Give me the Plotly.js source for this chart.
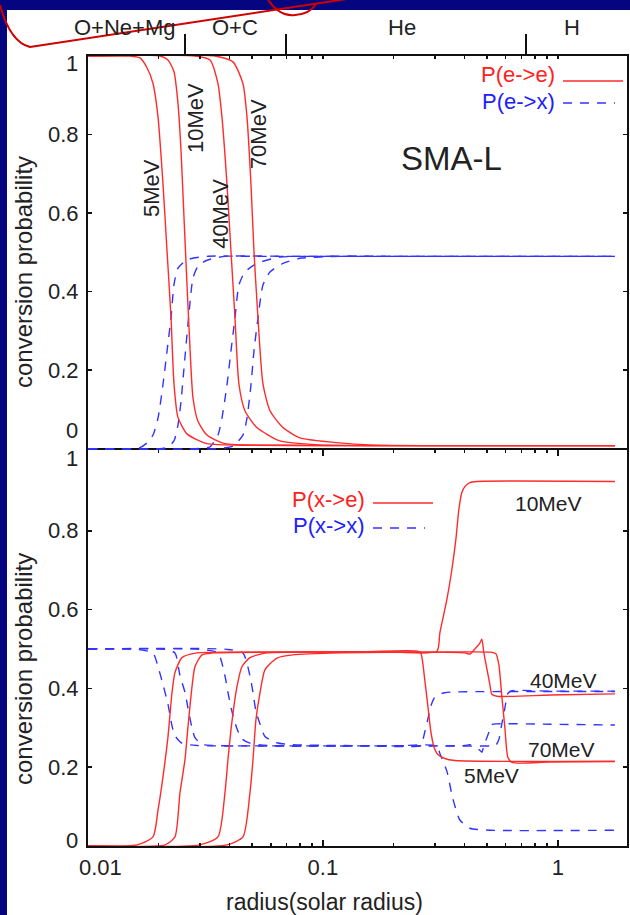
<!DOCTYPE html>
<html><head><meta charset="utf-8">
<script src="https://cdn.plot.ly/plotly-3.0.1.min.js"></script>
<style>html,body{margin:0;padding:0;background:#05057f;} #chart{width:630px;height:915px;}</style>
</head><body><div id="chart"></div>
<script>
// ---------- data: top panel (P(e->e) red, P(e->x) blue) ----------
const energies = ['5MeV', '10MeV', '40MeV', '70MeV'];

const top_x_5   = [0.01, 0.0151, 0.01664, 0.01783, 0.01891, 0.01986, 0.02085, 0.02169, 0.02256, 0.02323, 0.02415, 0.02638, 0.03209, 0.05, 0.1, 1.75];
const top_ee_5  = [1.0, 1.0, 0.995, 0.97, 0.93, 0.845, 0.675, 0.505, 0.335, 0.165, 0.08, 0.038, 0.013, 0.009, 0.008, 0.008];
const top_ex_5  = [0.0, 0.0, 0.003, 0.015, 0.035, 0.078, 0.163, 0.248, 0.333, 0.418, 0.46, 0.481, 0.49, 0.49, 0.49, 0.49];

const top_x_10  = [0.01, 0.02025, 0.0219, 0.02323, 0.02415, 0.02488, 0.02562, 0.02638, 0.02716, 0.02798, 0.02939, 0.03209, 0.03828, 0.07, 0.15, 1.75];
const top_ee_10 = [1.0, 1.0, 0.99, 0.96, 0.88, 0.76, 0.59, 0.42, 0.26, 0.13, 0.07, 0.035, 0.013, 0.009, 0.008, 0.008];
const top_ex_10 = [0.0, 0.0, 0.005, 0.02, 0.06, 0.12, 0.205, 0.29, 0.37, 0.435, 0.465, 0.48, 0.49, 0.49, 0.49, 0.49];

const top_x_40  = [0.01, 0.02853, 0.03304, 0.03574, 0.03717, 0.03904, 0.04059, 0.04222, 0.0439, 0.04656, 0.05238, 0.06563, 0.0971, 0.2, 1.75];
const top_ee_40 = [1.0, 1.0, 0.99, 0.93, 0.845, 0.675, 0.505, 0.335, 0.165, 0.097, 0.054, 0.02, 0.01, 0.008, 0.008];
const top_ex_40 = [0.0, 0.0, 0.005, 0.035, 0.078, 0.162, 0.248, 0.332, 0.417, 0.45, 0.472, 0.488, 0.49, 0.49, 0.49];

const top_x_70  = [0.01, 0.0347, 0.0414, 0.04566, 0.0475, 0.04939, 0.05086, 0.05289, 0.05556, 0.05951, 0.06759, 0.07981, 0.1181, 0.1585, 0.3, 1.75];
const top_ee_70 = [1.0, 1.0, 0.985, 0.93, 0.845, 0.675, 0.505, 0.335, 0.165, 0.097, 0.054, 0.028, 0.015, 0.01, 0.008, 0.008];
const top_ex_70 = [0.0, 0.0, 0.007, 0.035, 0.078, 0.162, 0.248, 0.332, 0.417, 0.45, 0.472, 0.485, 0.49, 0.49, 0.49, 0.49];

// ---------- data: bottom panel (P(x->e) red, P(x->x) blue) ----------
const bot_x_5   = [0.01, 0.01616, 0.01891, 0.01986, 0.02085, 0.0219, 0.02278, 0.02345, 0.02512, 0.0291, 0.05, 0.15, 0.2587, 0.2638, 0.2716, 0.2798, 0.2881, 0.2968, 0.3086, 0.3304, 0.3645, 1.75];
const bot_xe_5  = [0.0, 0.003, 0.023, 0.091, 0.175, 0.277, 0.389, 0.44, 0.478, 0.49, 0.492, 0.493, 0.493, 0.48, 0.42, 0.355, 0.29, 0.252, 0.232, 0.222, 0.217, 0.215];
const bot_xx_5  = [0.5, 0.499, 0.49, 0.455, 0.41, 0.36, 0.305, 0.28, 0.261, 0.255, 0.254, 0.254, 0.254, 0.26, 0.29, 0.322, 0.355, 0.374, 0.384, 0.389, 0.391, 0.392];

const bot_x_10   = [0.01, 0.02127, 0.02345, 0.02463, 0.02587, 0.02664, 0.02771, 0.02853, 0.03056, 0.03404, 0.1, 0.2, 0.3056, 0.3147, 0.337, 0.3539, 0.3681, 0.3791, 0.3904, 0.402, 0.4222, 0.4521, 1.75];
const bot_xe_10  = [0.0, 0.003, 0.023, 0.135, 0.219, 0.302, 0.404, 0.455, 0.485, 0.49, 0.492, 0.492, 0.494, 0.541, 0.625, 0.701, 0.778, 0.854, 0.897, 0.912, 0.922, 0.925, 0.925];
const bot_xb_10  = [0.01, 0.02127, 0.02345, 0.02463, 0.02587, 0.02664, 0.02771, 0.02853, 0.03056, 0.03404, 0.1, 0.2, 0.3056, 0.3147, 0.337, 0.3574, 0.3828, 0.4222, 0.5136, 1.75];
const bot_xx_10  = [0.5, 0.499, 0.49, 0.433, 0.39, 0.35, 0.3, 0.275, 0.258, 0.255, 0.254, 0.254, 0.254, 0.235, 0.19, 0.12, 0.066, 0.045, 0.04, 0.04];

const bot_x_40  = [0.01, 0.02997, 0.03574, 0.03828, 0.03942, 0.04099, 0.04305, 0.04521, 0.04891, 0.05777, 0.15, 0.3, 0.402, 0.4222, 0.4436, 0.4656, 0.475, 0.4844, 0.4988, 0.5136, 0.5238, 0.5502, 0.9247, 1.75];
const bot_xe_40 = [0.0, 0.003, 0.023, 0.135, 0.219, 0.315, 0.404, 0.455, 0.478, 0.49, 0.492, 0.492, 0.49, 0.487, 0.5, 0.515, 0.525, 0.49, 0.45, 0.41, 0.385, 0.38, 0.383, 0.386];
const bot_xx_40 = [0.5, 0.499, 0.49, 0.432, 0.39, 0.342, 0.298, 0.272, 0.261, 0.255, 0.254, 0.254, 0.255, 0.257, 0.25, 0.243, 0.238, 0.255, 0.275, 0.295, 0.308, 0.31, 0.309, 0.307];

const bot_x_70  = [0.01, 0.03904, 0.04566, 0.04891, 0.05037, 0.05187, 0.05395, 0.05666, 0.06373, 0.07454, 0.12, 0.3, 0.5136, 0.5449, 0.561, 0.5777, 0.5951, 0.6128, 0.6373, 0.9247, 1.75];
const bot_xe_70 = [0.0, 0.003, 0.023, 0.135, 0.218, 0.32, 0.388, 0.447, 0.477, 0.485, 0.49, 0.492, 0.492, 0.488, 0.46, 0.38, 0.3, 0.225, 0.212, 0.213, 0.214];
const bot_xx_70 = [0.5, 0.499, 0.49, 0.432, 0.39, 0.342, 0.31, 0.278, 0.262, 0.257, 0.255, 0.254, 0.254, 0.256, 0.27, 0.31, 0.35, 0.387, 0.394, 0.393, 0.393];

// ---------- axis / label values ----------
const xTickVals = [0.1, 1];
const xTickText = ['0.1', '1'];
const xFirstTick = 0.01;
const xMinorVals = [0.02,0.03,0.04,0.05,0.06,0.07,0.08,0.09,0.2,0.3,0.4,0.5,0.6,0.7,0.8,0.9];
const yTickVals = [0.2, 0.4, 0.6, 0.8];
const yTickText = ['0.2', '0.4', '0.6', '0.8'];
const yEndVals = [0, 1];
const yEndText = ['0', '1'];
const boundaryR = [0.02587, 0.06963, 0.7308];
const regionNames = ['O+Ne+Mg', 'O+C', 'He', 'H'];
const regionCenters = [0.01444, 0.0422, 0.2169, 1.147];
const topLabelPos = {'5MeV':[0.01872,0.664], '10MeV':[0.02852,0.842], '40MeV':[0.03681,0.598], '70MeV':[0.0529,0.801]};
const botLabelPos = {'5MeV':[0.5237,0.178], '10MeV':[0.9156,0.870], '40MeV':[1.0605,0.419], '70MeV':[1.04,0.246]};

// ---------- style ----------
const RED = '#ff2b2b', BLUE = '#3333ff', TXT = '#222222', AX = '#111111';
const FONT = 'Liberation Sans, Arial, Helvetica, sans-serif';
const DASH = '9px,8px';

function redTrace(x, y, xa, ya){ return {x:x, y:y, xaxis:xa, yaxis:ya, mode:'lines', hoverinfo:'skip',
  line:{color:RED, width:1.4, shape:'spline', smoothing:0.6}}; }
function blueTrace(x, y, xa, ya){ return {x:x, y:y, xaxis:xa, yaxis:ya, mode:'lines', hoverinfo:'skip',
  line:{color:BLUE, width:1.4, dash:DASH, shape:'spline', smoothing:0.6}}; }

const traces = [
  blueTrace(top_x_5, top_ex_5, 'x2', 'y2'), blueTrace(top_x_10, top_ex_10, 'x2', 'y2'),
  blueTrace(top_x_40, top_ex_40, 'x2', 'y2'), blueTrace(top_x_70, top_ex_70, 'x2', 'y2'),
  redTrace(top_x_5, top_ee_5, 'x2', 'y2'), redTrace(top_x_10, top_ee_10, 'x2', 'y2'),
  redTrace(top_x_40, top_ee_40, 'x2', 'y2'), redTrace(top_x_70, top_ee_70, 'x2', 'y2'),
  blueTrace(bot_x_5, bot_xx_5, 'x', 'y'), blueTrace(bot_xb_10, bot_xx_10, 'x', 'y'),
  blueTrace(bot_x_40, bot_xx_40, 'x', 'y'), blueTrace(bot_x_70, bot_xx_70, 'x', 'y'),
  redTrace(bot_x_5, bot_xe_5, 'x', 'y'), redTrace(bot_x_10, bot_xe_10, 'x', 'y'),
  redTrace(bot_x_40, bot_xe_40, 'x', 'y'), redTrace(bot_x_70, bot_xe_70, 'x', 'y')
];

const L = Math.log10;
const XR = [-2, 0.2945];
const tickFont = {family:FONT, size:22, color:TXT};

function yAxis(domain, range, anchor){
  return {domain:domain, range:range, anchor:anchor, tickmode:'array', tickvals:yTickVals, ticktext:yTickText,
    ticks:'inside', ticklen:4, tickwidth:1.5, tickcolor:AX, showline:true, linewidth:2, linecolor:AX,
    mirror:'ticks', showgrid:false, zeroline:false, tickfont:tickFont, ticklabelstandoff:3, fixedrange:true};
}

const annotations = [];
function ann(text, x, y, xref, yref, extra){
  annotations.push(Object.assign({text:text, x:x, y:y, xref:xref, yref:yref, showarrow:false,
    xanchor:'center', yanchor:'middle', font:{family:FONT, size:22, color:TXT}}, extra||{}));
}
// region labels above top panel
regionNames.forEach((n,i)=>ann(n, L(regionCenters[i]), 1.0367, 'x2', 'paper', {font:{family:FONT,size:22,color:TXT}}));
// energy labels
energies.forEach(e=>{
  ann(e, L(topLabelPos[e][0]), topLabelPos[e][1], 'x2', 'y2', {textangle:-90, font:{family:FONT,size:22,color:TXT}});
  ann(e, L(botLabelPos[e][0]), botLabelPos[e][1], 'x', 'y', {font:{family:FONT,size:21,color:TXT}});
});
ann('SMA-L', L(0.354), 0.740, 'x2', 'y2', {font:{family:FONT,size:33,color:TXT}});
// legend texts
ann('P(e-&gt;e)', 0.8701, 0.9772, 'paper', 'paper', {xanchor:'right', font:{family:FONT,size:22,color:'#ff2020'}});
ann('P(e-&gt;x)', 0.8701, 0.9430, 'paper', 'paper', {xanchor:'right', font:{family:FONT,size:22,color:'#2020ff'}});
ann('P(x-&gt;e)', 0.5176, 0.4392, 'paper', 'paper', {xanchor:'right', font:{family:FONT,size:22,color:'#ff2020'}});
ann('P(x-&gt;x)', 0.5176, 0.4051, 'paper', 'paper', {xanchor:'right', font:{family:FONT,size:22,color:'#2020ff'}});
// axis titles
ann('conversion probability', -0.1187, 0.7266, 'paper', 'paper', {textangle:-90, font:{family:FONT,size:24,color:TXT}});
ann('conversion probability', -0.1187, 0.2241, 'paper', 'paper', {textangle:-90, font:{family:FONT,size:24,color:TXT}});
ann('radius(solar radius)', 0.4397, -0.0709, 'paper', 'paper', {font:{family:FONT,size:23,color:TXT}});
// end tick labels (0 and 1), nudged inward as in the original
const endShifts = {y2:[18,-7], y:[6,-7]};
['y2','y'].forEach(ya=>{
  yEndVals.forEach((v,i)=>ann(yEndText[i], 0, v, 'paper', ya, {xanchor:'right', xshift:-8, yshift:endShifts[ya][i], font:tickFont}));
});
ann(String(xFirstTick), L(xFirstTick), -0.0266, 'x', 'paper', {xanchor:'left', xshift:-11, font:tickFont});

// shapes: white page, legend samples, hand-drawn red marks
const shapes = [
  {type:'rect', xref:'paper', yref:'paper', x0:-0.1503, x1:1.01, y0:-0.09, y1:1.0582, fillcolor:'#ffffff', line:{width:0}, layer:'below'},
  {type:'line', xref:'paper', yref:'paper', x0:0.8813, x1:0.9926, y0:0.9684, y1:0.9684, line:{color:RED, width:1.5}},
  {type:'line', xref:'paper', yref:'paper', x0:0.8813, x1:0.9777, y0:0.9405, y1:0.9405, line:{color:BLUE, width:1.5, dash:DASH}},
  {type:'line', xref:'paper', yref:'paper', x0:0.5288, x1:0.6401, y0:0.4342, y1:0.4342, line:{color:RED, width:1.5}},
  {type:'line', xref:'paper', yref:'paper', x0:0.5288, x1:0.6252, y0:0.4025, y1:0.4025, line:{color:BLUE, width:1.5, dash:DASH}},
  {type:'path', xref:'paper', yref:'paper', path:'M -0.1633,1.0646 Q -0.1447,1.0177 -0.1076,1.0114 L 0.5046,1.0747', line:{color:'#d00000', width:2}},
  {type:'path', xref:'paper', yref:'paper', path:'M 0.3340,1.0709 Q 0.3562,1.0494 0.3840,1.0519 Q 0.4119,1.0532 0.4230,1.0658', line:{color:'#d00000', width:2}}
];

const layout = {
  width:630, height:915, margin:{l:88, r:3, t:56, b:69},
  paper_bgcolor:'#05057f', plot_bgcolor:'#ffffff', showlegend:false,
  font:{family:FONT, color:TXT},
  xaxis:{domain:[0,1], anchor:'y', type:'log', range:XR, tickmode:'array', tickvals:xTickVals, ticktext:xTickText,
    ticks:'inside', ticklen:6, tickwidth:1.5, tickcolor:AX, showline:true, linewidth:2, linecolor:AX, mirror:'ticks',
    minor:{tickmode:'array', tickvals:xMinorVals, ticks:'inside', ticklen:3, tickcolor:AX, showgrid:false},
    showgrid:false, zeroline:false, tickfont:tickFont, ticklabelstandoff:1, fixedrange:true},
  xaxis2:{anchor:'y2', side:'top', type:'log', range:XR, tickmode:'array', tickvals:boundaryR, ticktext:boundaryR.map(()=>''),
    showticklabels:false, ticks:'outside', ticklen:20, tickwidth:1.5, tickcolor:AX, showline:true, linewidth:2, linecolor:AX,
    minor:{tickmode:'array', tickvals:xMinorVals.concat(xTickVals), ticks:'inside', ticklen:3, tickcolor:AX, showgrid:false},
    showgrid:false, zeroline:false, fixedrange:true},
  yaxis: yAxis([0, 0.5013], [0, 1.005], 'x'),
  yaxis2: yAxis([0.5013, 1], [-0.003, 1.0], 'x2'),
  annotations:annotations, shapes:shapes
};

Plotly.newPlot('chart', traces, layout, {staticPlot:true, displayModeBar:false});
</script></body></html>
